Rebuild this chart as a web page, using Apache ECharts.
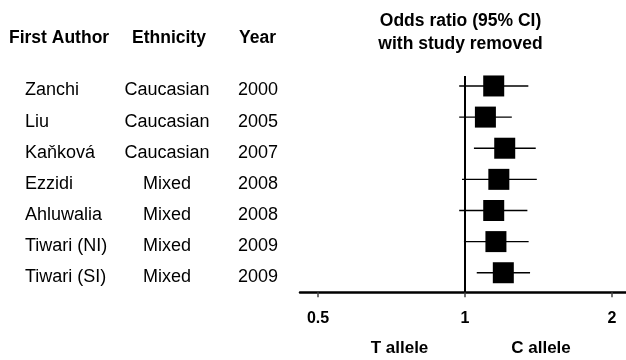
<!DOCTYPE html>
<html>
<head>
<meta charset="utf-8">
<script src="https://cdn.jsdelivr.net/npm/echarts@6/dist/echarts.min.js"></script>
<style>html,body{margin:0;padding:0;background:#fff}#c{width:626px;height:360px}</style>
</head>
<body>
<div id="c"></div>
<script>
var authors = ['Zanchi', 'Liu', 'Kaňková', 'Ezzidi', 'Ahluwalia', 'Tiwari (NI)', 'Tiwari (SI)'];
var ethnicity = ['Caucasian', 'Caucasian', 'Caucasian', 'Mixed', 'Mixed', 'Mixed', 'Mixed'];
var years = ['2000', '2005', '2007', '2008', '2008', '2009', '2009'];
var oddsRatio = [1.145, 1.101, 1.206, 1.173, 1.145, 1.157, 1.198];
var ciLower = [0.973, 0.973, 1.043, 0.986, 0.973, 0.995, 1.057];
var ciUpper = [1.348, 1.247, 1.396, 1.403, 1.342, 1.350, 1.359];
var nullValue = 1;
var headers = ['First Author', 'Ethnicity', 'Year'];
var plotTitle = ['Odds ratio (95% CI)', 'with study removed'];
var sideLabels = ['T allele', 'C allele'];

var FONT = '"Liberation Sans", Arial, sans-serif';
var chart = echarts.init(document.getElementById('c'), null, {renderer: 'canvas'});

var ciData = authors.map(function (a, i) { return [ciLower[i], ciUpper[i], i]; });
var orData = authors.map(function (a, i) { return [oddsRatio[i], i]; });

var option = {
  animation: false,
  backgroundColor: '#fff',
  textStyle: {fontFamily: FONT},
  grid: [
    {left: 318, right: 14, top: 70.4, bottom: 71.7},
    {left: 300, right: 0, top: 76, bottom: 67.7}
  ],
  xAxis: [
    {
      gridIndex: 0, type: 'log', logBase: 2, min: 0.5, max: 2, offset: 4,
      axisLine: {show: false},
      axisTick: {show: true, length: 5, lineStyle: {color: '#444', width: 1.5}},
      splitLine: {show: false},
      axisLabel: {margin: 18, color: '#000', fontWeight: 'bold', fontSize: 16, fontFamily: FONT}
    },
    {
      // same log2 scale as the data axis, extended to the full drawn axis line
      gridIndex: 1, type: 'value', min: -1.1224, max: 1.0952,
      axisLine: {show: true, lineStyle: {color: '#000', width: 2.5}},
      axisTick: {show: false}, axisLabel: {show: false}, splitLine: {show: false}
    }
  ],
  yAxis: [
    {
      gridIndex: 0, type: 'category', data: authors, inverse: true,
      axisLine: {show: false}, axisTick: {show: false}, splitLine: {show: false},
      axisLabel: {
        margin: 16,
        padding: [9, 0, 0, 0],
        formatter: function (v, i) {
          return '{a|' + authors[i] + '}{e|' + ethnicity[i] + '}{y|' + years[i] + '}';
        },
        rich: {
          a: {width: 95, align: 'left', fontSize: 18, color: '#000', fontFamily: FONT},
          e: {width: 94, align: 'center', fontSize: 18, color: '#000', fontFamily: FONT},
          y: {width: 88, align: 'center', fontSize: 18, color: '#000', fontFamily: FONT}
        }
      }
    },
    {
      gridIndex: 1, type: 'value', min: 0, max: 1, show: false
    }
  ],
  series: [
    {
      type: 'line', xAxisIndex: 1, yAxisIndex: 1, data: [], silent: true,
      markLine: {
        silent: true, symbol: 'none', label: {show: false},
        lineStyle: {color: '#000', width: 2, type: 'solid'},
        data: [{xAxis: Math.log2(nullValue)}]
      }
    },
    {
      type: 'custom', xAxisIndex: 0, yAxisIndex: 0, data: ciData,
      encode: {x: [0, 1], y: 2}, z: 3,
      renderItem: function (params, api) {
        var p1 = api.coord([api.value(0), api.value(2)]);
        var p2 = api.coord([api.value(1), api.value(2)]);
        return {
          type: 'line',
          shape: {x1: p1[0], y1: p1[1], x2: p2[0], y2: p2[1]},
          style: {stroke: '#000', lineWidth: 1.4}
        };
      }
    },
    {
      type: 'scatter', xAxisIndex: 0, yAxisIndex: 0, data: orData, z: 4,
      symbol: 'rect', symbolSize: 21,
      itemStyle: {color: '#000', opacity: 1}
    }
  ],
  graphic: [
    {type: 'text', left: 9, top: 29, style: {text: headers[0], font: 'bold 17.5px ' + FONT, fill: '#000'}},
    {type: 'text', left: 132, top: 29, style: {text: headers[1], font: 'bold 17.5px ' + FONT, fill: '#000'}},
    {type: 'text', left: 239, top: 29, style: {text: headers[2], font: 'bold 17.5px ' + FONT, fill: '#000'}},
    {type: 'text', x: 460.5, y: 21, style: {text: plotTitle[0], font: 'bold 17.5px ' + FONT, fill: '#000', align: 'center', verticalAlign: 'middle'}},
    {type: 'text', x: 460.5, y: 44, style: {text: plotTitle[1], font: 'bold 17.5px ' + FONT, fill: '#000', align: 'center', verticalAlign: 'middle'}},
    {type: 'text', x: 399.5, y: 348, style: {text: sideLabels[0], font: 'bold 17px ' + FONT, fill: '#000', align: 'center', verticalAlign: 'middle'}},
    {type: 'text', x: 541, y: 348, style: {text: sideLabels[1], font: 'bold 17px ' + FONT, fill: '#000', align: 'center', verticalAlign: 'middle'}}
  ]
};
chart.setOption(option);
</script>
</body>
</html>
